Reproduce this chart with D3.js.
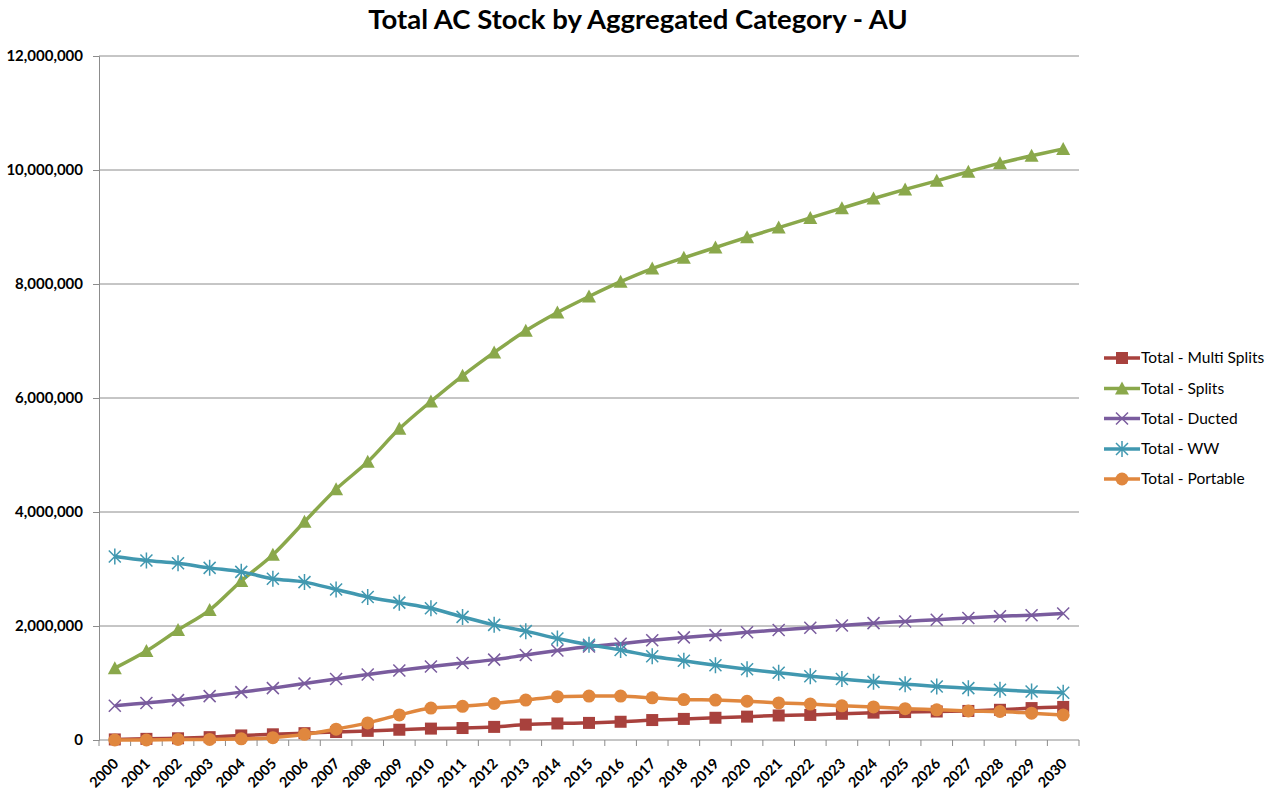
<!DOCTYPE html>
<html>
<head>
<meta charset="utf-8">
<style>
body { margin: 0; background: #fff; }
svg text { font-family: Lato, "Open Sans", sans-serif; }
</style>
</head>
<body>
<svg width="1279" height="793"></svg>
<script src="https://d3js.org/d3.v7.min.js"></script>
<script>
var years = d3.range(2000, 2031).map(String)
var yTicks = [0, 2000000, 4000000, 6000000, 8000000, 10000000, 12000000]

// values (millions)
var multiSplits = [0.01,0.02,0.03,0.05,0.08,0.10,0.12,0.14,0.16,0.18,0.20,0.21,0.23,0.27,0.29,0.30,0.32,0.35,0.37,0.39,0.41,0.43,0.44,0.46,0.48,0.49,0.50,0.51,0.53,0.56,0.58]
var splits = [1.26,1.56,1.93,2.28,2.79,3.25,3.83,4.40,4.88,5.46,5.94,6.39,6.80,7.18,7.50,7.78,8.04,8.27,8.46,8.64,8.82,8.99,9.16,9.33,9.50,9.66,9.81,9.97,10.12,10.25,10.37]
var ducted = [0.60,0.65,0.70,0.77,0.84,0.91,0.99,1.07,1.15,1.22,1.29,1.35,1.41,1.49,1.57,1.64,1.69,1.75,1.80,1.84,1.89,1.93,1.97,2.01,2.05,2.08,2.11,2.14,2.17,2.19,2.22]
var ww = [3.22,3.15,3.10,3.02,2.95,2.83,2.77,2.64,2.51,2.41,2.31,2.16,2.02,1.91,1.78,1.67,1.58,1.47,1.39,1.31,1.24,1.18,1.12,1.07,1.02,0.98,0.94,0.91,0.88,0.85,0.83]
var portable = [0.0,0.0,0.01,0.01,0.02,0.04,0.10,0.19,0.30,0.44,0.56,0.59,0.64,0.70,0.76,0.77,0.77,0.74,0.71,0.70,0.68,0.65,0.63,0.60,0.58,0.55,0.53,0.51,0.50,0.47,0.44]

var seriesNames = ["Total - Multi Splits", "Total - Splits", "Total - Ducted", "Total - WW", "Total - Portable"]
var seriesValues = [multiSplits, splits, ducted, ww, portable]
var seriesColors = ["#A8413D", "#8AA84B", "#7A5C9E", "#4198B0", "#E0873E"]
var seriesMarkers = ["square", "triangle", "x", "star", "circle"]

var svg = d3.select("svg")
var pLeft = 99, pRight = 1079, pTop = 56, pBottom = 740

var x = d3.scaleBand().domain(years).range([pLeft, pRight])
var y = d3.scaleLinear().domain([0, 12000000]).range([pBottom, pTop])

svg.append("text").attr("x", 638).attr("y", 29).attr("text-anchor", "middle")
  .attr("font-size", 27.5).attr("font-weight", "bold").attr("fill", "#000")
  .text("Total AC Stock by Aggregated Category - AU")

// gridlines
svg.append("g").selectAll("line").data(yTicks.slice(1)).join("line")
  .attr("x1", pLeft).attr("x2", pRight).attr("y1", d => y(d)).attr("y2", d => y(d))
  .attr("stroke", "#8c8c8c").attr("stroke-width", 1)

// y axis
var yAxis = svg.append("g").attr("transform", "translate(" + pLeft + ",0)")
  .call(d3.axisLeft(y).tickValues(yTicks).tickSize(6).tickPadding(10).tickFormat(d3.format(",")))
yAxis.select(".domain").attr("stroke", "#8c8c8c")
yAxis.selectAll(".tick line").attr("stroke", "#8c8c8c")
yAxis.selectAll("text").attr("font-size", 15).attr("font-weight", "bold").attr("fill", "#000")
  .attr("font-family", "Lato, sans-serif")

// x axis with ticks between categories
var xg = svg.append("g").attr("transform", "translate(0," + pBottom + ")")
xg.append("line").attr("x1", pLeft).attr("x2", pRight).attr("stroke", "#8c8c8c")
xg.selectAll(".tk").data(years.concat(["end"])).join("line")
  .attr("x1", (d, i) => pLeft + i * x.bandwidth()).attr("x2", (d, i) => pLeft + i * x.bandwidth())
  .attr("y1", 0).attr("y2", 6).attr("stroke", "#8c8c8c")
xg.selectAll("text").data(years).join("text")
  .attr("transform", d => "translate(" + (x(d) + x.bandwidth() / 2 + 1) + ",21) rotate(-45)")
  .attr("text-anchor", "end").attr("dy", "0.35em")
  .attr("font-size", 14.5).attr("font-weight", "bold").attr("fill", "#000")
  .text(d => d)

var cx = i => x(years[i]) + x.bandwidth() / 2

function drawMarker(g, type, color) {
  if (type == "square") {
    g.append("rect").attr("x", -6).attr("y", -6).attr("width", 12).attr("height", 12).attr("fill", color)
  } else if (type == "triangle") {
    g.append("path").attr("d", "M0,-7L7,6L-7,6Z").attr("fill", color)
  } else if (type == "circle") {
    g.append("circle").attr("r", 6.5).attr("fill", color)
  } else if (type == "x") {
    g.append("path").attr("d", "M-6,-6L6,6M-6,6L6,-6").attr("stroke", color).attr("stroke-width", 1.5).attr("fill", "none")
  } else if (type == "star") {
    g.append("path").attr("d", "M-6,-6L6,6M-6,6L6,-6M0,-8L0,8").attr("stroke", color).attr("stroke-width", 1.5).attr("fill", "none")
  }
}

var line = d3.line().x((d, i) => cx(i)).y(d => y(d * 1e6)).curve(d3.curveCatmullRom.alpha(0.5))

seriesValues.forEach(function(vals, s) {
  svg.append("path").datum(vals).attr("d", line)
    .attr("fill", "none").attr("stroke", seriesColors[s]).attr("stroke-width", 3.5)
  vals.forEach(function(v, i) {
    var g = svg.append("g").attr("transform", "translate(" + cx(i) + "," + y(v * 1e6) + ")")
    drawMarker(g, seriesMarkers[s], seriesColors[s])
  })
})

// legend
var legY = [358, 388.5, 418.5, 449, 479]
seriesNames.forEach(function(name, s) {
  var g = svg.append("g").attr("transform", "translate(1104," + legY[s] + ")")
  g.append("line").attr("x1", 0).attr("x2", 36).attr("stroke", seriesColors[s]).attr("stroke-width", 3.5)
  var m = g.append("g").attr("transform", "translate(18,0)")
  drawMarker(m, seriesMarkers[s], seriesColors[s])
  g.append("text").attr("x", 37).attr("dy", "0.35em").attr("font-size", 15.5).attr("fill", "#000").text(name)
})
</script>
</body>
</html>
